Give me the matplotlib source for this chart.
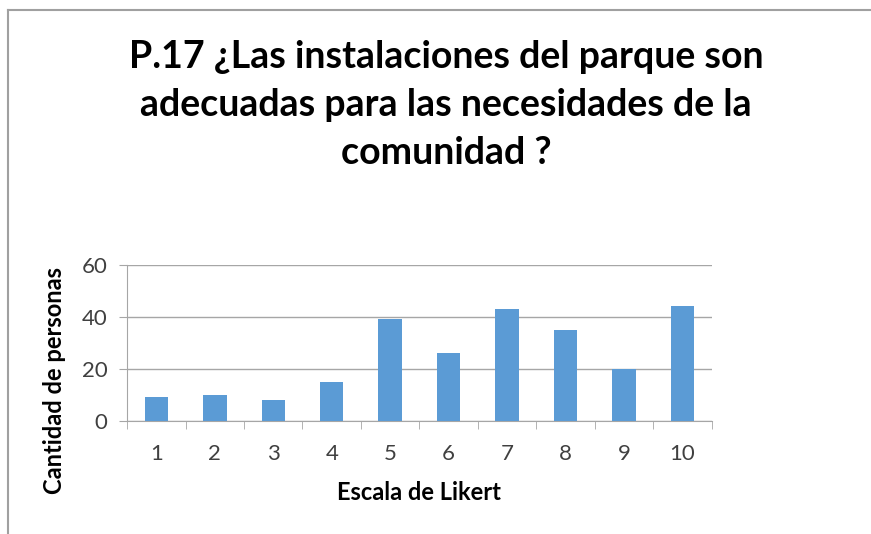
import matplotlib.pyplot as plt
from matplotlib.lines import Line2D

plt.rcParams['font.family'] = ['Lato', 'DejaVu Sans']

escala = [1, 2, 3, 4, 5, 6, 7, 8, 9, 10]
personas = [9, 10, 8, 15, 39, 26, 43, 35, 20, 44]
titulo = "P.17 ¿Las instalaciones del parque son\nadecuadas para las necesidades de la\ncomunidad ?"

fig = plt.figure(figsize=(8.71, 5.34), dpi=100)
ax = fig.add_axes([0.146, 0.212, 0.671, 0.292])

ax.bar(escala, personas, width=0.4, color='#5B9BD5', zorder=3)
ax.set_xlim(0.5, 10.5)
ax.set_ylim(0, 60)
ax.set_yticks([0, 20, 40, 60])
ax.set_xticks(escala)
ax.set_xticks([x + 0.5 for x in range(0, 11)], minor=True)
ax.tick_params(axis='x', which='major', length=0, pad=17, labelsize=16, labelcolor='#404040')
ax.tick_params(axis='x', which='minor', length=6, color='#A6A6A6')
ax.tick_params(axis='y', length=6, color='#A6A6A6', labelsize=16, labelcolor='#404040', pad=8)
ax.grid(axis='y', color='#A6A6A6', linewidth=1, zorder=0)
for s in ['top', 'right']:
    ax.spines[s].set_visible(False)
ax.spines['left'].set_color('#A6A6A6')
ax.spines['bottom'].set_color('#A6A6A6')

ax.set_xlabel('Escala de Likert', fontsize=17, fontweight='bold', labelpad=12)
ax.set_ylabel('Cantidad de personas', fontsize=17, fontweight='bold', labelpad=6)
ax.yaxis.set_label_coords(-0.105, 0.26)

fig.text(0.512, 0.803, titulo, ha='center', va='center', fontsize=27,
         fontweight='bold', linespacing=1.5)

# marco gris del gráfico
fig.add_artist(Line2D([0.009, 1], [0.981, 0.981], transform=fig.transFigure, color='#A0A0A0', lw=1.5))
fig.add_artist(Line2D([0.009, 0.009], [0, 0.981], transform=fig.transFigure, color='#A0A0A0', lw=1.5))

fig.savefig('out.png', dpi=100)
